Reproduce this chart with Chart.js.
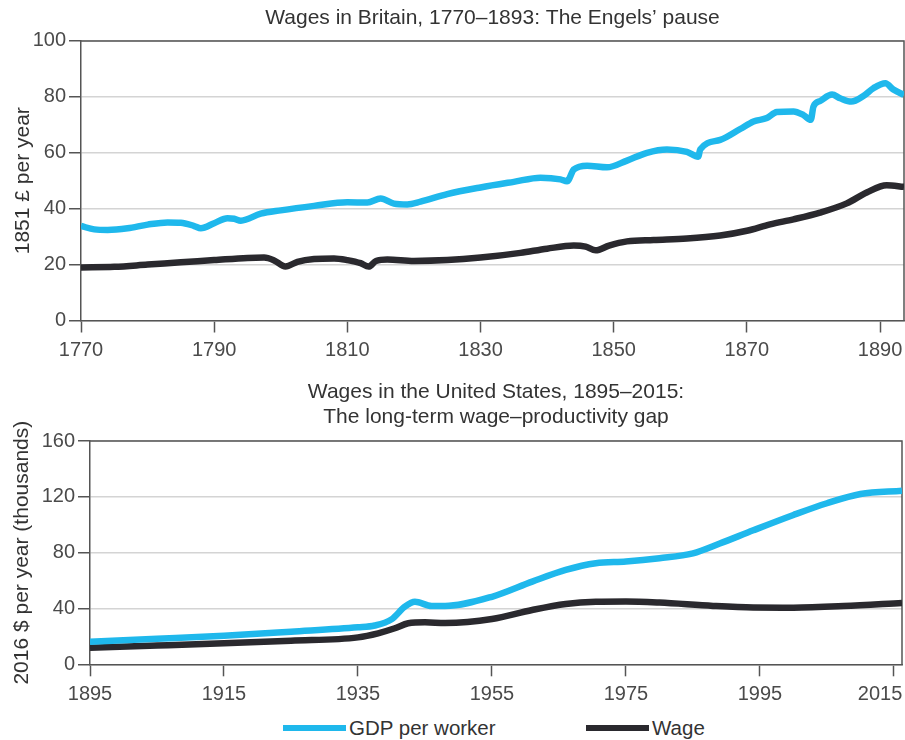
<!DOCTYPE html>
<html>
<head>
<meta charset="utf-8">
<script src="https://cdn.jsdelivr.net/npm/chart.js@4.4.1/dist/chart.umd.min.js"></script>
<style>
  body { margin: 0; background: #fff; }
  #wrap { position: relative; width: 905px; height: 740px; font-family: 'Liberation Sans', Arial, sans-serif; }
  canvas { position: absolute; left: 0; }
  .leg { position: absolute; top: 716px; height: 24px; line-height: 24px; font-size: 20.5px; color: #333; white-space: nowrap; }
  .leg i { position: absolute; left: 0; top: 9px; width: 63px; height: 6px; }
  .leg span { position: absolute; left: 66px; top: 0; }
</style>
</head>
<body>
<div id="wrap">
  <canvas id="britain" width="905" height="365" style="top:0"></canvas>
  <canvas id="us" width="905" height="345" style="top:365px"></canvas>
  <div class="leg" id="leg0" style="left:283px"></div>
  <div class="leg" id="leg1" style="left:586px"></div>
</div>
<script>
// Britain, 1770-1893 (1851 pounds per year)
const britainGdpYears = [1770, 1772, 1774, 1777, 1780, 1783, 1785, 1787, 1788, 1790, 1792, 1793, 1794, 1797, 1800, 1805, 1810, 1813, 1815, 1817, 1819, 1821, 1825, 1830, 1835, 1839, 1842, 1843, 1844, 1846, 1849, 1852, 1855, 1858, 1861, 1862.7, 1863, 1866, 1869, 1871, 1873, 1874.5, 1877, 1878.5, 1879.6, 1880, 1881, 1882.8, 1884, 1885.7, 1887.5, 1889, 1890.8, 1892, 1893.6]
const britainGdp = [33.8, 32.6, 32.4, 33.0, 34.3, 35.1, 35.0, 33.8, 33.0, 34.8, 36.6, 36.4, 35.7, 38.2, 39.4, 41.0, 42.3, 42.2, 43.6, 41.8, 41.5, 42.5, 45.2, 47.6, 49.6, 51.1, 50.5, 49.8, 54.0, 55.4, 54.8, 57.2, 60.0, 61.2, 60.3, 58.6, 61.2, 64.6, 68.5, 71.2, 72.4, 74.6, 74.8, 73.5, 71.8, 76.5, 78.5, 80.8, 79.5, 78.3, 80.3, 83.1, 84.9, 82.6, 80.7]
const britainWageYears = [1770, 1775, 1780, 1785, 1790, 1795, 1797.5, 1799, 1800.7, 1802.5, 1805, 1808, 1810, 1812, 1813.2, 1814.3, 1816, 1820, 1825, 1830, 1836, 1840, 1844, 1845.8, 1847.3, 1849.3, 1852, 1856, 1861, 1866, 1870, 1873.5, 1877, 1881, 1885, 1888, 1891, 1893.6]
const britainWage = [19.0, 19.2, 20.0, 20.8, 21.6, 22.4, 22.5, 21.5, 19.3, 21.0, 22.0, 22.2, 21.6, 20.5, 19.3, 21.3, 21.8, 21.3, 21.6, 22.5, 24.2, 25.7, 26.8, 26.4, 25.1, 26.8, 28.3, 28.8, 29.3, 30.4, 32.1, 34.4, 36.2, 38.6, 41.9, 45.8, 48.4, 47.8]
const britainXTicks = [1770, 1790, 1810, 1830, 1850, 1870, 1890]

// United States, 1895-2015 (2016 dollars per year, thousands)
const usGdpYears = [1895, 1905, 1915, 1925, 1935, 1937.5, 1940, 1942, 1943.5, 1946, 1948, 1955, 1961, 1966, 1970.5, 1975, 1980, 1985, 1989, 1994, 2000, 2005, 2010, 2016.2]
const usGdp = [16.2, 18.3, 20.5, 23.4, 26.5, 27.8, 32.2, 41.3, 44.8, 41.8, 41.8, 48.4, 59.2, 67.6, 72.4, 73.6, 76.0, 79.5, 86.5, 96.0, 107.0, 115.4, 122.0, 124.4]
const usWageYears = [1895, 1905, 1915, 1925, 1935, 1938, 1940.5, 1942.5, 1945, 1948, 1955, 1961, 1966, 1970.5, 1975, 1980, 1988, 1994, 2000, 2007.5, 2016.2]
const usWage = [11.9, 13.4, 15.0, 16.9, 19.3, 22.2, 25.8, 29.4, 30.1, 29.6, 32.4, 38.9, 43.2, 44.8, 45.0, 44.2, 41.8, 40.7, 40.6, 41.7, 44.0]
const usXTicks = [1895, 1915, 1935, 1955, 1975, 1995, 2015]

const seriesNames = ['GDP per worker', 'Wage']
const CYAN = '#1fb8ec'
const DARK = '#2a292e'
const FONT = "'Liberation Sans', Arial, sans-serif"

function pts(xs, ys) {
    return xs.map((x, i) => ({ x: x, y: ys[i] }))
}

// top and right border of the plot area
const framePlugin = {
    id: 'frame',
    beforeDatasetsDraw(chart) {
        const a = chart.chartArea
        const ctx = chart.ctx
        ctx.save()
        ctx.strokeStyle = '#555'
        ctx.lineWidth = 1.5
        ctx.beginPath()
        ctx.moveTo(a.left, a.top)
        ctx.lineTo(a.right, a.top)
        ctx.lineTo(a.right, a.bottom)
        ctx.stroke()
        ctx.restore()
    }
}

function makeChart(id, o) {
    const datasets = [{
        label: seriesNames[0],
        data: pts(o.gdpYears, o.gdp),
        borderColor: CYAN,
        backgroundColor: CYAN,
        borderWidth: 6.5,
        pointRadius: 0,
        cubicInterpolationMode: 'monotone',
        fill: false
    }, {
        label: seriesNames[1],
        data: pts(o.wageYears, o.wage),
        borderColor: DARK,
        backgroundColor: DARK,
        borderWidth: 6.5,
        pointRadius: 0,
        cubicInterpolationMode: 'monotone',
        fill: false
    }]

    return new Chart(document.getElementById(id), {
        type: 'line',
        data: { datasets: datasets },
        plugins: [framePlugin],
        options: {
            responsive: false,
            animation: false,
            layout: { padding: { left: 0, right: o.rightPad, top: 0, bottom: 0 } },
            plugins: {
                title: {
                    display: true,
                    text: o.title,
                    fullSize: false,
                    color: '#333',
                    font: { family: FONT, size: 21, weight: 'normal', lineHeight: 1.15 },
                    padding: o.titlePad
                },
                legend: { display: false },
                tooltip: { enabled: false }
            },
            scales: {
                x: {
                    type: 'linear',
                    min: o.xMin,
                    max: o.xMax,
                    afterFit: function (s) {
                        s.height = o.xHeight
                        s.paddingLeft = 0
                        s.paddingRight = 0
                    },
                    afterBuildTicks: function (s) { s.ticks = o.xTicks.map(v => ({ value: v })) },
                    ticks: {
                        color: '#4a4a4a',
                        font: { family: FONT, size: 20 },
                        padding: 6,
                        maxRotation: 0,
                        callback: o.xLabel
                    },
                    grid: {
                        drawOnChartArea: false,
                        tickLength: 12,
                        tickColor: '#555',
                        tickWidth: 1.5
                    },
                    border: { color: '#555', width: 1.5 }
                },
                y: {
                    min: 0,
                    max: o.yMax,
                    afterFit: function (s) { s.width = o.yWidth },
                    ticks: {
                        stepSize: o.yStep,
                        color: '#4a4a4a',
                        font: { family: FONT, size: 20 },
                        padding: 3
                    },
                    grid: {
                        color: '#d4d4d4',
                        lineWidth: 1.5,
                        tickLength: 12,
                        tickColor: '#555',
                        tickWidth: 1.5
                    },
                    border: { color: '#555', width: 1.5 },
                    title: {
                        display: true,
                        text: o.yTitle,
                        color: '#333',
                        font: { family: FONT, size: 21 },
                        padding: { top: o.yTitlePad, bottom: 0 }
                    }
                }
            }
        }
    })
}

makeChart('britain', {
    title: 'Wages in Britain, 1770\u20131893: The Engels\u2019 pause',
    titlePad: { top: 6, bottom: 10.8 },
    gdpYears: britainGdpYears, gdp: britainGdp,
    wageYears: britainWageYears, wage: britainWage,
    xMin: 1770, xMax: 1893.6, xTicks: britainXTicks,
    xLabel: v => String(v),
    yMax: 100, yStep: 20,
    yTitle: '1851 \u00a3 per year', yTitlePad: 10.5,
    yWidth: 81, xHeight: 44.5, rightPad: 1
})

const usChart = makeChart('us', {
    title: ['Wages in the United States, 1895\u20132015:', 'The long-term wage\u2013productivity gap'],
    titlePad: { top: 15.5, bottom: 12.2 },
    gdpYears: usGdpYears, gdp: usGdp,
    wageYears: usWageYears, wage: usWage,
    xMin: 1895, xMax: 2016.2, xTicks: usXTicks,
    // last label is pulled left so it stays inside the page
    xLabel: v => v === 2015 ? '2015\u00a0\u00a0\u00a0\u00a0\u00a0' : String(v),
    yMax: 160, yStep: 40,
    yTitle: '2016 $ per year (thousands)', yTitlePad: 9.5,
    yWidth: 90, xHeight: 45.7, rightPad: 3
})

// legend below the lower chart
usChart.data.datasets.forEach(function (ds, i) {
    const el = document.getElementById('leg' + i)
    el.innerHTML = '<i style="background:' + ds.borderColor + '"></i><span>' + ds.label + '</span>'
})
</script>
</body>
</html>
